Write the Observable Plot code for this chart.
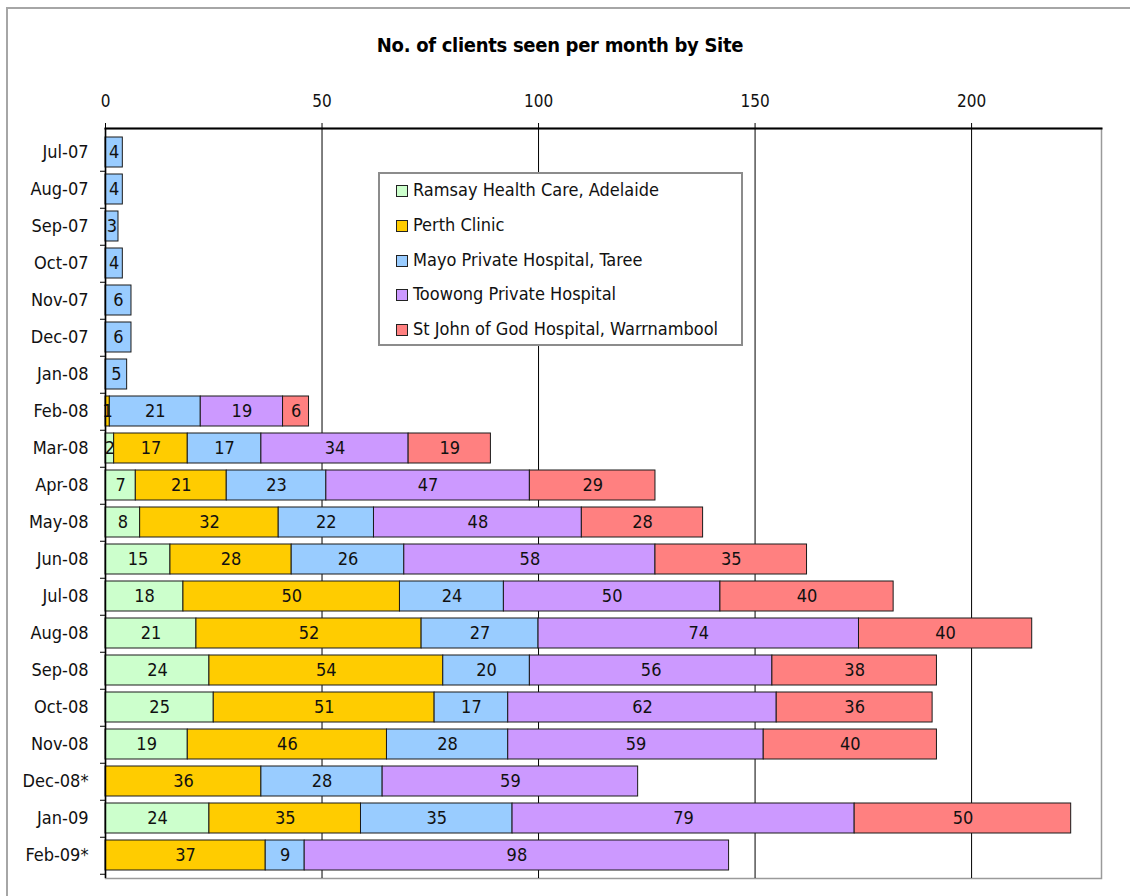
<!DOCTYPE html>
<html>
<head>
<meta charset="utf-8">
<script src="https://cdn.jsdelivr.net/npm/d3@7"></script>
<script src="https://cdn.jsdelivr.net/npm/@observablehq/plot@0.6"></script>
<style>
  html, body { margin: 0; padding: 0; background: #fff; }
  #wrap { position: relative; width: 1130px; height: 896px; overflow: hidden; }
  #outer { position: absolute; left: 6px; top: 7px; width: 1200px; height: 1000px; border-top: 2px solid #a6a6a6; border-left: 2px solid #a6a6a6; box-sizing: border-box; }
  #title { position: absolute; left: 0; width: 1120px; top: 33px; text-align: center; font-family: "DejaVu Sans Condensed", sans-serif; font-weight: bold; font-size: 20px; letter-spacing: -0.3px; color: #000; }
  #chart { position: absolute; left: 0; top: 0; }
  #legend { position: absolute; left: 378px; top: 172px; width: 365px; height: 174px; box-sizing: border-box; border: 2px solid #8c8c8c; background: #fff; font-family: "DejaVu Sans Condensed", sans-serif; font-size: 18px; color: #111; }
  .item { position: absolute; left: 16px; height: 22px; line-height: 22px; white-space: nowrap; }
  .sw { display: inline-block; width: 10px; height: 10px; border: 1px solid #222; margin-right: 5px; vertical-align: -1px; }
</style>
</head>
<body>
<div id="wrap">
  <div id="outer"></div>
  <div id="chart"></div>
  <div id="title">No. of clients seen per month by Site</div>
  <div id="legend"></div>
</div>
<script>
const months = ["Jul-07","Aug-07","Sep-07","Oct-07","Nov-07","Dec-07","Jan-08","Feb-08","Mar-08","Apr-08","May-08","Jun-08","Jul-08","Aug-08","Sep-08","Oct-08","Nov-08","Dec-08*","Jan-09","Feb-09*"];
const sites = ["Ramsay Health Care, Adelaide","Perth Clinic","Mayo Private Hospital, Taree","Toowong Private Hospital","St John of God Hospital, Warrnambool"];
const colors = ["#ccffcc","#ffcc00","#99ccff","#cc99ff","#ff8080"];
const ramsay  = [0,0,0,0,0,0,0,0,2,7,8,15,18,21,24,25,19,0,24,0];
const perth   = [0,0,0,0,0,0,0,1,17,21,32,28,50,52,54,51,46,36,35,37];
const mayo    = [4,4,3,4,6,6,5,21,17,23,22,26,24,27,20,17,28,28,35,9];
const toowong = [0,0,0,0,0,0,0,19,34,47,48,58,50,74,56,62,59,59,79,98];
const stjohn  = [0,0,0,0,0,0,0,6,19,29,28,35,40,40,38,36,40,0,50,0];
const xTicks = [0,50,100,150,200];

const series = [ramsay, perth, mayo, toowong, stjohn];
const data = [];
months.forEach((m, i) => {
  series.forEach((s, j) => {
    if (s[i] > 0) data.push({month: m, site: sites[j], value: s[i]});
  });
});

const font = "DejaVu Sans Condensed, sans-serif";

const chart = Plot.plot({
  width: 1130,
  height: 896,
  marginTop: 128,
  marginLeft: 105,
  marginRight: 29,
  marginBottom: 18,
  style: {background: "transparent", fontFamily: font},
  x: {domain: [0, 230]},
  y: {domain: months, padding: 0.2},
  color: {domain: sites, range: colors},
  marks: [
    Plot.frame({stroke: "#9a9a9a", strokeWidth: 1.5}),
    Plot.gridX({ticks: xTicks.slice(1), stroke: "#000", strokeOpacity: 1, strokeWidth: 1}),
    Plot.barX(data, Plot.stackX({x: "value", y: "month", fill: "site", z: "site", order: sites, stroke: "#1a1a1a", strokeWidth: 1})),
    Plot.text(data, Plot.stackX({x: "value", y: "month", z: "site", order: sites, text: "value", fontSize: 18, fill: "#111", fontFamily: font})),
    Plot.ruleX([0], {stroke: "#000", strokeWidth: 1.5}),
    Plot.frame({anchor: "top", stroke: "#000", strokeWidth: 2}),
    Plot.axisX({anchor: "top", ticks: xTicks, tickSize: 6, tickPadding: 16, fontSize: 17, label: null, stroke: "#000", fill: "#111"}),
    Plot.axisY({anchor: "left", tickSize: 0, tickPadding: 17, fontSize: 18, label: null, fill: "#111"}),
    Plot.axisY({anchor: "left", tickSize: 5, tickFormat: () => "", label: null, dy: 18.75, stroke: "#000"})
  ]
});
document.getElementById("chart").appendChild(chart);

const legend = document.getElementById("legend");
const tops = [5, 40, 75, 109, 144];
sites.forEach((s, i) => {
  const d = document.createElement("div");
  d.className = "item";
  d.style.top = tops[i] + "px";
  const sw = document.createElement("span");
  sw.className = "sw";
  sw.style.background = colors[i];
  d.appendChild(sw);
  d.appendChild(document.createTextNode(s));
  legend.appendChild(d);
});
</script>
</body>
</html>
